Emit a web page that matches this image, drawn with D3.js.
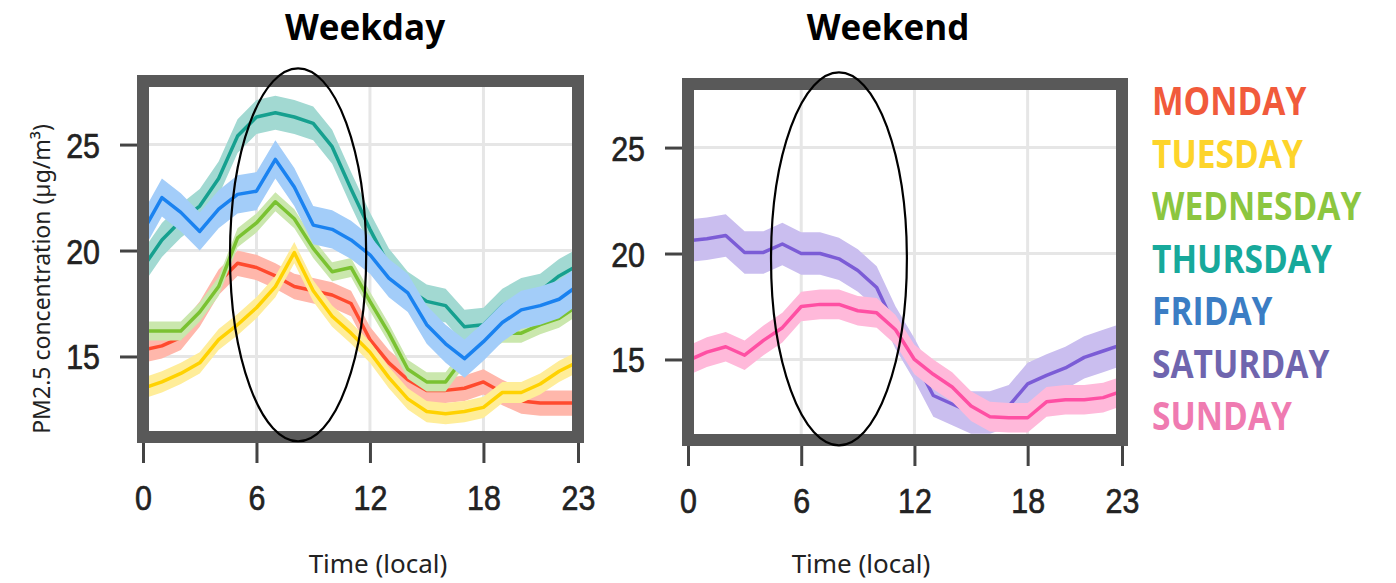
<!DOCTYPE html>
<html>
<head>
<meta charset="utf-8">
<script src="https://cdn.jsdelivr.net/npm/d3@7"></script>
<style>
  html, body { margin: 0; padding: 0; background: #fff; }
  svg { display: block; }
</style>
</head>
<body>
<svg id="chart" width="1396" height="583"></svg>
<script>
// Hour of day (local time)
const hours = [0,1,2,3,4,5,6,7,8,9,10,11,12,13,14,15,16,17,18,19,20,21,22,23];
const xTickValues = [0, 6, 12, 18, 23];
const yTickValues = [15, 20, 25];
const dayNames = ["MONDAY","TUESDAY","WEDNESDAY","THURSDAY","FRIDAY","SATURDAY","SUNDAY"];

// Mean PM2.5 (µg/m³) by hour for each day of week
const monday    = [15.3,15.5,15.9,17.0,18.5,19.4,19.2,18.8,18.3,18.1,17.9,17.5,15.8,14.7,13.9,13.4,13.4,13.5,13.8,13.3,12.9,12.8,12.8,12.8];
const tuesday   = [13.5,13.8,14.2,14.7,15.8,16.5,17.3,18.3,19.9,18.1,16.9,16.1,15.2,14.0,13.0,12.4,12.3,12.4,12.6,13.3,13.3,13.7,14.3,14.75];
const wednesday = [16.2,16.2,16.2,17.1,18.3,20.6,21.3,22.3,21.5,20.1,19.0,19.2,17.6,16.1,14.4,13.8,13.8,15.0,15.6,16.1,16.1,16.5,16.8,17.4];
const thursday  = [19.2,20.5,21.4,22.1,23.4,25.4,26.3,26.5,26.3,26.0,24.9,22.9,21.0,19.3,18.2,17.6,17.4,16.4,16.5,17.4,17.9,18.1,18.8,19.3];
const friday    = [20.9,22.5,21.8,20.9,21.95,22.65,22.8,24.3,23.0,21.2,21.0,20.5,19.8,18.7,18.0,16.5,15.6,14.9,15.7,16.6,17.2,17.4,17.7,18.35];
const saturday  = [20.6,20.7,20.85,20.05,20.05,20.45,20.0,20.0,19.75,19.2,18.4,16.5,15.0,13.3,12.9,12.5,12.5,12.8,13.85,14.25,14.6,15.1,15.4,15.7];
const sunday    = [14.95,15.35,15.6,15.2,15.9,16.5,17.5,17.6,17.6,17.3,17.2,16.4,15.0,14.3,13.7,12.8,12.3,12.25,12.25,13.0,13.1,13.1,13.2,13.5];

// Half-width of the confidence band for each day
const bandHalfWidth = [0.6, 0.5, 0.45, 0.8, 0.9, 1.0, 0.7];

// Colours
const lineColors   = ["#ff4a2e","#ffd200","#7ac231","#16a08f","#1a82f0","#7b5cd6","#ff4fa3"];
const legendColors = ["#f15a3b","#fdd42a","#8cc63f","#17a99b","#3b7dc4","#6f65ae","#ef7bb1"];

const dayValues = [monday, tuesday, wednesday, thursday, friday, saturday, sunday];
const series = dayNames.map((name, i) => ({
  name,
  color: lineColors[i],
  band: d3.interpolateRgb(lineColors[i], "#ffffff")(0.6),
  hw: bandHalfWidth[i],
  points: hours.map((h, j) => ({ h, v: dayValues[i][j] }))
}));

const svg = d3.select("#chart");
const yDomain = [11.2, 28.0];

const panels = [
  { id: "wd", title: "Weekday", titleX: 365, xlabelX: 378, days: [0,1,2,3,4],
    xRange: [143, 578], yRange: [437, 81], ring: { h: 8.2, v: 19.8 }, yTitle: true },
  { id: "we", title: "Weekend", titleX: 888, xlabelX: 861, days: [5,6],
    xRange: [688, 1122], yRange: [440, 84], ring: { h: 8.0, v: 19.75 }, yTitle: false }
];

const frameColor = "#595959";
const frameWidth = 12;
const tickFont = "'Liberation Sans', Arial, sans-serif";
const textFont = "'Noto Sans', 'Open Sans', sans-serif";

panels.forEach(p => {
  const x = d3.scaleLinear().domain([0, 23]).range(p.xRange);
  const y = d3.scaleLinear().domain(yDomain).range(p.yRange);
  const g = svg.append("g");
  const [x0, x1] = p.xRange;
  const [yb, yt] = p.yRange;

  g.append("clipPath").attr("id", "clip-" + p.id)
    .append("rect").attr("x", x0).attr("y", yt).attr("width", x1 - x0).attr("height", yb - yt);

  // grid
  const grid = g.append("g").attr("stroke", "#e6e6e6").attr("stroke-width", 3);
  grid.selectAll("line.v").data(xTickValues.filter(d => d > 0 && d < 23)).join("line")
    .attr("x1", d => x(d)).attr("x2", d => x(d)).attr("y1", yt).attr("y2", yb);
  grid.selectAll("line.h").data(yTickValues).join("line")
    .attr("x1", x0).attr("x2", x1).attr("y1", d => y(d)).attr("y2", d => y(d));

  // bands + lines
  const data = g.append("g").attr("clip-path", `url(#clip-${p.id})`);
  const area = d3.area().x(d => x(d.h));
  const line = d3.line().x(d => x(d.h)).y(d => y(d.v));
  p.days.forEach(i => {
    const s = series[i];
    data.append("path").datum(s.points)
      .attr("fill", s.band)
      .attr("d", area.y0(d => y(d.v - s.hw)).y1(d => y(d.v + s.hw)));
    data.append("path").datum(s.points)
      .attr("fill", "none").attr("stroke", s.color).attr("stroke-width", 3.5)
      .attr("stroke-linejoin", "round")
      .attr("d", line);
  });

  // frame
  g.append("rect").attr("x", x0).attr("y", yt).attr("width", x1 - x0).attr("height", yb - yt)
    .attr("fill", "none").attr("stroke", frameColor).attr("stroke-width", frameWidth);

  // x axis
  const xa = g.append("g").attr("transform", `translate(0,${yb + frameWidth / 2})`)
    .call(d3.axisBottom(x).tickValues(xTickValues).tickSize(20).tickFormat(d3.format("d")));
  xa.select(".domain").remove();
  xa.selectAll(".tick line").attr("stroke", "#444").attr("stroke-width", 3);
  xa.selectAll(".tick text")
    .attr("y", 0).attr("dy", "0.71em")
    .attr("transform", "translate(0,42) scale(0.98,1.12)")
    .attr("fill", "#222").attr("stroke", "#222").attr("stroke-width", 0.6)
    .style("font-family", tickFont).style("font-size", "31px");

  // y axis
  const ya = g.append("g").attr("transform", `translate(${x0 - frameWidth / 2},0)`)
    .call(d3.axisLeft(y).tickValues(yTickValues).tickSize(17).tickFormat(d3.format("d")));
  ya.select(".domain").remove();
  ya.selectAll(".tick line").attr("stroke", "#444").attr("stroke-width", 3);
  ya.selectAll(".tick text")
    .attr("x", 0).attr("dy", "0.36em")
    .attr("transform", "translate(-37,0) scale(0.98,1.12)")
    .attr("fill", "#222").attr("stroke", "#222").attr("stroke-width", 0.6)
    .style("font-family", tickFont).style("font-size", "31px");

  // circled morning window
  g.append("ellipse")
    .attr("cx", x(p.ring.h)).attr("cy", y(p.ring.v))
    .attr("rx", x(3.6) - x(0)).attr("ry", y(yDomain[0]) - y(yDomain[0] + 8.8))
    .attr("fill", "none").attr("stroke", "#000").attr("stroke-width", 2.2);

  // titles
  g.append("text").attr("x", p.titleX).attr("y", 40).attr("text-anchor", "middle")
    .style("font-family", "'Open Sans', 'Noto Sans', sans-serif").style("font-weight", 700)
    .style("font-size", "35px").attr("fill", "#000").text(p.title);

  g.append("text").attr("x", p.xlabelX).attr("y", 573).attr("text-anchor", "middle")
    .style("font-family", textFont).style("font-size", "26px").attr("fill", "#222")
    .text("Time (local)");

  if (p.yTitle) {
    g.append("text").attr("transform", "translate(50,279) rotate(-90)")
      .attr("text-anchor", "middle")
      .style("font-family", textFont).style("font-size", "23px").attr("fill", "#222")
      .text("PM2.5 concentration (µg/m³)");
  }
});

// legend
const legendY = d3.scalePoint().domain(dayNames).range([115, 430]);
const legend = svg.append("g").attr("transform", "translate(1152,0)");
legend.selectAll("text").data(dayNames).join("text")
  .attr("transform", d => `translate(0,${legendY(d)}) scale(0.86,1)`)
  .attr("fill", (d, i) => legendColors[i])
  .style("font-family", "'Open Sans', 'Noto Sans', sans-serif")
  .style("font-weight", 700).style("font-size", "39px")
  .text(d => d);
</script>
</body>
</html>
